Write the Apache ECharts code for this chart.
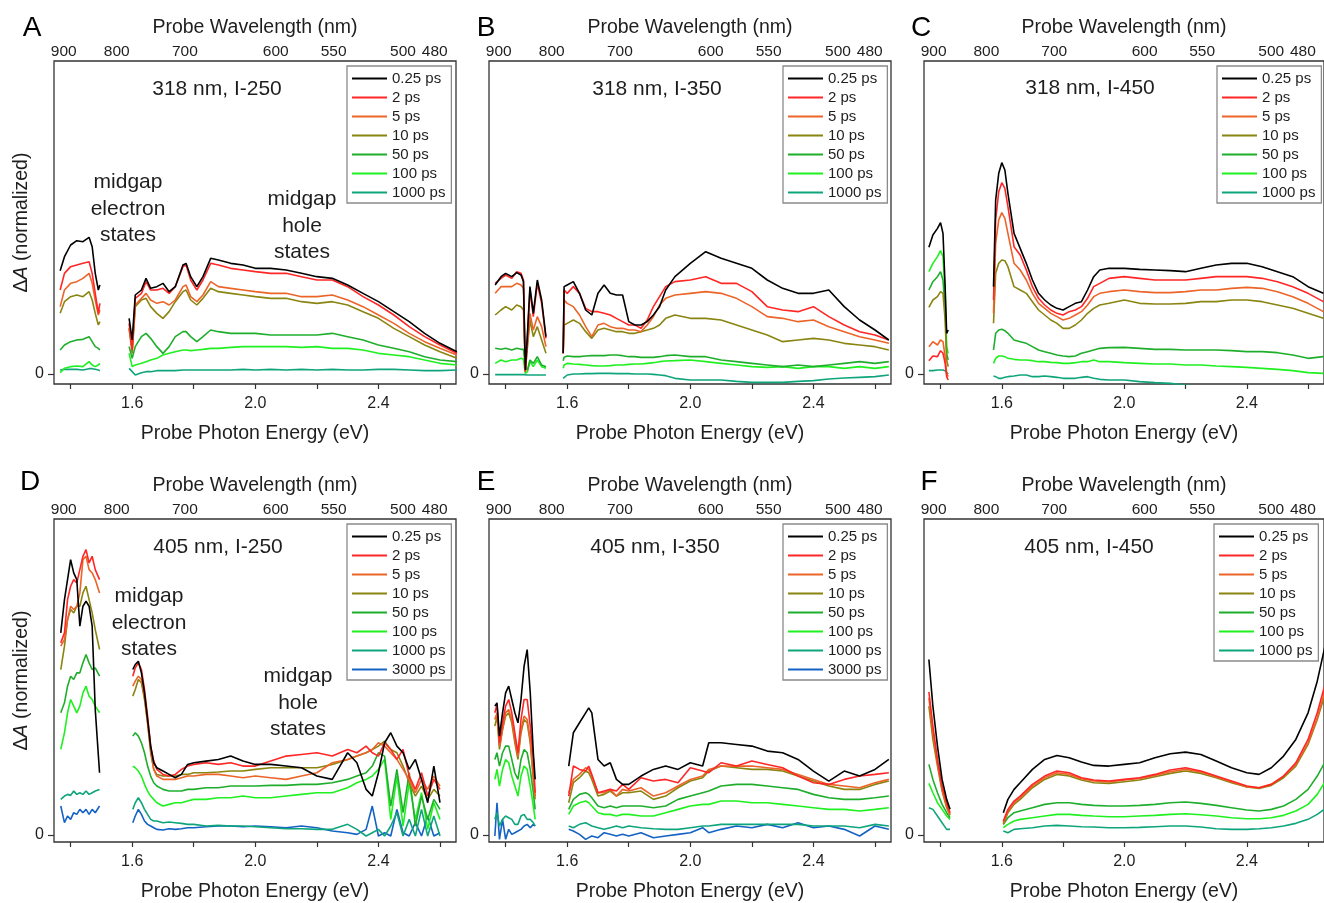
<!DOCTYPE html>
<html>
<head>
<meta charset="utf-8">
<title>TA spectra</title>
<script src="https://cdn.jsdelivr.net/npm/echarts/dist/echarts.min.js"></script>
<style>
html,body{margin:0;padding:0;background:#fff;}
#main{width:1324px;height:903px;}
</style>
</head>
<body>
<div id="main"></div>
<script>
// photon energy (eV) <-> wavelength (nm)
var HC = 1239.84;

var delays = ['0.25 ps','2 ps','5 ps','10 ps','50 ps','100 ps','1000 ps','3000 ps'];
var delayColors = ['#000000','#ff2626','#ec6428','#8a8410','#1fae2c','#1ff01f','#0fa57c','#1462c4'];
var wavelengthTicks = [900,800,700,600,550,500,480];
var energyTicks = [1.4,1.6,1.8,2.0,2.2,2.4,2.6];
var energyLabels = [1.6,2.0,2.4];
var panelLetters = ['A','B','C','D','E','F'];
var panelTitles = ['318 nm, I-250','318 nm, I-350','318 nm, I-450','405 nm, I-250','405 nm, I-350','405 nm, I-450'];

// ---- A : 318 nm, I-250 ----
var aNirE = [1.366,1.38,1.40,1.42,1.44,1.46,1.47,1.48,1.49,1.495];
var aNir = [
    [310,352,387,400,397,410,382,302,252,267],
    [252,302,322,327,332,337,302,242,182,212],
    [202,252,272,277,287,302,272,222,177,192],
    [182,217,232,237,232,247,222,182,147,157],
    [72,87,97,102,104,112,97,82,77,72],
    [4,17,22,24,22,37,27,22,27,32],
    [12,14,14,14,12,16,16,14,12,10]
];
var aVisE = [1.59,1.60,1.61,1.63,1.645,1.66,1.68,1.70,1.72,1.74,1.765,1.775,1.79,1.81,1.83,1.855,1.88,1.92,1.96,2.00,2.05,2.10,2.15,2.20,2.25,2.30,2.35,2.40,2.45,2.50,2.55,2.60,2.655];
var aVis = [
    [167,102,237,252,287,257,262,272,247,262,327,332,292,262,292,347,342,332,327,317,317,312,302,292,287,267,242,217,187,157,122,92,67],
    [152,72,227,242,277,252,252,257,242,262,322,327,282,252,282,332,327,317,312,307,302,302,292,282,282,262,232,207,177,142,112,87,62],
    [137,72,207,227,242,222,212,217,207,222,262,267,232,217,237,277,262,257,252,247,242,242,232,232,237,222,202,177,152,122,97,77,57],
    [137,62,202,222,227,202,182,167,187,217,247,252,222,207,227,257,247,242,237,232,227,227,217,212,217,207,187,167,137,112,87,67,47],
    [82,47,82,112,122,107,82,62,82,112,127,127,112,97,112,132,127,122,122,122,117,117,117,117,122,112,102,87,77,67,52,42,37],
    [62,22,27,32,37,42,47,57,62,67,72,72,70,72,74,77,77,80,82,82,82,82,80,82,77,77,72,62,57,52,42,32,27],
    [17,7,-3,4,7,7,10,10,10,10,12,12,12,12,12,12,12,12,14,12,14,12,14,12,14,12,12,14,14,12,10,10,12]
];

// ---- B : 318 nm, I-350 ----
var bNirE = [1.366,1.385,1.40,1.42,1.436,1.45,1.458,1.464,1.471,1.479,1.49,1.503,1.517,1.531];
var bNir = [
    [267,292,302,292,304,297,277,12,122,262,182,282,222,112],
    [272,287,297,287,307,302,282,7,112,252,172,272,212,107],
    [242,262,262,262,272,267,257,7,92,182,132,172,142,82],
    [177,192,202,192,207,202,192,12,82,162,112,142,102,62],
    [77,74,77,72,77,74,74,22,12,42,32,52,27,22],
    [32,42,37,42,42,47,44,2,7,37,22,42,22,17],
    [-2,-2,-2,-2,-2,-2,-2,-5,-3,-3,-3,-3,-3,-3]
];
var bVisE = [1.587,1.59,1.60,1.62,1.64,1.66,1.68,1.70,1.72,1.74,1.76,1.78,1.80,1.82,1.84,1.86,1.88,1.90,1.92,1.95,2.00,2.05,2.10,2.15,2.20,2.25,2.30,2.35,2.40,2.45,2.50,2.55,2.60,2.645];
var bVis = [
    [62,262,267,277,242,192,177,242,267,242,237,237,157,147,147,157,177,202,252,292,332,367,347,332,317,282,257,242,242,252,202,162,132,102],
    [62,252,242,262,242,197,187,187,182,177,167,157,147,147,137,162,202,232,262,277,282,292,272,272,247,202,192,187,202,172,147,127,117,102],
    [62,222,212,202,177,142,112,147,152,142,137,137,132,132,127,147,172,207,227,237,242,247,242,227,202,172,167,157,162,142,127,112,102,92],
    [62,147,152,162,152,127,107,132,137,132,127,127,122,122,127,132,137,147,167,177,167,167,162,147,132,117,97,102,107,102,92,87,82,72],
    [40,50,54,52,52,54,55,55,55,57,57,55,52,52,50,50,50,52,55,57,52,52,42,37,32,27,22,27,22,27,32,37,32,37],
    [17,27,32,30,29,27,25,24,24,25,27,27,29,30,30,32,34,37,39,40,42,37,32,27,22,20,22,17,22,22,17,22,17,22],
    [-13,-8,-3,0,0,1,1,2,2,2,1,1,1,0,0,0,-1,-3,-5,-13,-18,-18,-18,-22,-25,-25,-25,-22,-20,-15,-12,-10,-8,-3]
];

// ---- C : 318 nm, I-450 ----
var cNirE = [1.362,1.375,1.39,1.40,1.408,1.415,1.42,1.425];
var cNir = [
    [380,417,437,454,422,262,122,132],
    [40,54,52,70,62,32,-8,-18],
    [82,97,87,102,97,52,2,-8],
    [200,222,232,247,242,162,42,22],
    [252,277,292,307,282,192,62,42],
    [307,332,352,370,352,242,82,62],
    [10,10,12,12,12,10,5,0]
];
var cVisE = [1.573,1.58,1.59,1.60,1.61,1.62,1.64,1.66,1.68,1.70,1.72,1.74,1.76,1.78,1.80,1.82,1.84,1.86,1.88,1.90,1.92,1.95,2.00,2.05,2.10,2.15,2.20,2.25,2.30,2.35,2.40,2.45,2.50,2.55,2.60,2.65];
var cVis = [
    [262,522,602,634,612,542,422,377,332,282,242,222,207,197,192,202,212,217,252,292,312,317,317,314,312,310,307,317,327,332,332,322,307,292,262,242],
    [222,462,547,574,557,502,382,357,312,262,227,207,192,182,177,187,192,202,227,262,272,287,292,287,282,282,282,287,292,292,292,287,277,262,242,217],
    [182,392,462,484,467,422,332,312,282,242,212,197,182,172,162,167,177,187,207,232,242,247,252,247,244,244,247,252,252,257,260,257,247,232,212,187],
    [152,302,332,342,340,322,262,252,242,217,192,177,162,152,137,137,147,162,182,197,207,212,222,212,210,210,212,217,217,222,222,217,207,197,182,167],
    [72,122,132,134,130,122,102,97,92,82,72,67,62,57,54,52,54,62,67,72,77,79,80,77,74,74,72,72,72,70,67,67,64,57,47,52],
    [32,47,54,54,52,47,44,42,42,40,37,37,35,34,32,32,34,37,37,42,37,37,34,32,30,30,27,27,24,22,20,17,14,10,4,2],
    [-6,-8,-13,-13,-10,-8,-6,-3,-3,-8,-8,-6,-8,-10,-13,-13,-13,-10,-8,-13,-16,-18,-18,-23,-26,-28,-33,-38,-38,-38,-38,-38,-38,-38,-38,-38]
];

// ---- D : 405 nm, I-250 ----
var dNirE = [1.368,1.38,1.39,1.40,1.41,1.42,1.43,1.44,1.45,1.46,1.47,1.48,1.494];
var dNir = [
    [607,707,767,827,787,767,627,687,702,687,627,377,187],
    [577,607,707,747,767,757,797,837,857,817,837,797,767],
    [567,587,647,687,677,687,727,827,837,797,787,767,727],
    [497,567,647,677,667,687,687,727,747,707,667,617,557],
    [367,397,447,477,467,487,487,517,542,517,497,502,477],
    [257,307,367,407,387,367,387,427,447,417,407,387,367],
    [107,117,122,119,132,122,127,122,132,122,127,132,137],
    [87,37,57,47,67,62,77,67,77,62,77,67,87]
];
var dVisE = [1.602,1.61,1.62,1.63,1.64,1.65,1.66,1.67,1.68,1.70,1.72,1.74,1.76,1.78,1.80,1.84,1.88,1.92,1.96,2.00,2.05,2.10,2.15,2.20,2.25,2.30,2.33,2.36,2.38,2.40,2.42,2.44,2.46,2.48,2.50,2.52,2.54,2.56,2.58,2.60];
var dVis = [
    [497,512,522,487,427,347,267,217,202,192,182,172,182,212,217,222,227,237,222,212,212,207,202,177,167,247,217,137,117,187,277,307,267,247,197,227,167,97,207,97],
    [477,502,517,497,437,357,267,222,197,182,177,182,197,207,212,217,212,217,207,207,222,237,242,247,237,257,247,267,247,237,277,257,227,257,177,137,187,117,167,137],
    [447,462,477,467,417,337,257,197,177,167,167,167,172,177,177,182,182,177,172,177,172,167,177,187,217,227,237,247,257,277,267,247,227,197,167,127,167,137,177,147],
    [417,437,467,457,407,337,247,197,182,177,177,177,182,182,187,187,189,192,192,197,202,202,202,202,212,227,237,247,257,267,282,257,247,207,157,117,147,107,137,117],
    [297,307,297,277,247,207,177,157,147,137,132,132,132,137,137,142,142,147,147,147,149,149,152,152,157,167,177,187,207,247,237,87,197,67,187,27,117,47,107,77],
    [207,202,192,177,152,132,117,107,97,87,92,97,97,102,107,107,112,112,117,112,112,117,122,127,127,142,157,167,177,197,227,47,177,27,157,47,127,17,97,47],
    [77,97,112,97,77,62,47,42,42,37,39,37,35,32,32,27,29,27,27,25,22,19,19,17,17,32,17,-3,7,17,-3,27,67,-3,47,-3,77,-3,57,-3],
    [37,57,77,62,42,32,27,22,17,15,19,17,19,22,22,25,27,27,25,27,25,22,27,22,12,7,2,17,87,-3,7,-3,77,7,-3,37,-3,57,-3,7]
];

// ---- E : 405 nm, I-350 ----
var eNirE = [1.365,1.372,1.38,1.39,1.40,1.41,1.42,1.43,1.44,1.45,1.46,1.47,1.48,1.49,1.496];
var eNir = [
    [387,397,297,367,427,447,407,367,337,407,507,557,427,247,167],
    [367,392,277,337,387,407,367,307,247,347,407,407,327,227,127],
    [347,367,267,317,367,377,347,287,237,317,357,347,287,177,117],
    [327,357,257,317,357,367,337,277,227,307,347,337,277,167,107],
    [227,247,207,247,267,267,227,187,167,227,257,247,197,127,77],
    [167,197,147,197,227,217,177,147,117,177,207,197,147,87,47],
    [47,67,27,47,57,52,47,32,32,57,62,47,47,37,27],
    [-3,97,-13,47,-13,17,2,7,12,17,27,32,22,32,27]
];
var eVisE = [1.605,1.62,1.64,1.66,1.67,1.68,1.70,1.72,1.74,1.76,1.78,1.80,1.84,1.88,1.92,1.96,2.00,2.04,2.06,2.10,2.15,2.20,2.25,2.30,2.35,2.40,2.45,2.50,2.55,2.60,2.645];
var eVis = [
    [207,307,337,367,382,367,227,207,217,167,152,152,177,197,207,197,217,207,277,277,272,267,252,247,227,192,162,192,177,197,227],
    [117,207,197,192,207,182,127,132,137,132,152,137,172,162,167,157,202,192,187,217,207,222,212,202,177,157,152,167,177,182,187],
    [127,167,182,202,197,177,127,127,137,117,137,132,142,117,127,147,167,177,197,207,207,207,202,197,182,167,152,147,142,157,167],
    [97,157,172,192,187,167,117,122,132,117,127,127,132,107,117,142,162,172,192,207,202,197,197,192,177,162,147,137,137,152,162],
    [77,107,122,127,122,112,87,82,87,82,87,87,87,82,87,107,117,127,132,147,152,152,147,142,137,122,112,107,107,112,117],
    [62,87,97,102,97,87,67,62,62,57,62,62,57,57,67,77,87,92,92,102,102,97,97,92,87,82,77,77,72,77,82],
    [27,22,32,37,32,27,22,17,22,27,22,27,22,19,17,17,22,27,27,32,32,32,32,32,32,27,27,27,22,32,27],
    [17,12,2,-13,-8,-3,-8,7,2,-3,2,-3,7,-8,-3,2,7,22,7,17,27,22,32,22,37,22,27,17,-3,27,17]
];

// ---- F : 405 nm, I-450 ----
var fNirE = [1.362,1.375,1.39,1.405,1.42,1.431];
var fNir = [
    [527,387,267,167,107,77],
    [430,327,227,147,97,67],
    [412,307,217,137,87,62],
    [387,287,207,132,82,59],
    [212,167,127,92,67,52],
    [155,127,97,77,57,47],
    [82,77,57,37,17,17]
];
var fVisE = [1.605,1.62,1.64,1.66,1.70,1.74,1.78,1.82,1.86,1.90,1.95,2.00,2.05,2.10,2.15,2.20,2.25,2.30,2.35,2.40,2.44,2.48,2.52,2.56,2.60,2.63,2.66];
var fVis = [
    [67,107,137,157,197,227,239,232,219,209,207,212,217,232,244,249,242,222,202,187,182,202,237,287,367,462,587],
    [42,77,102,117,152,177,192,187,172,165,162,167,172,182,195,202,192,177,162,147,142,152,177,217,287,367,467],
    [37,72,97,112,147,172,187,182,169,162,159,165,170,179,190,197,189,175,160,145,142,152,177,212,277,352,447],
    [32,67,92,107,142,167,182,177,165,157,155,160,165,175,185,192,185,172,157,144,140,149,172,207,272,347,437],
    [32,52,67,72,82,92,97,97,92,89,87,87,89,92,97,99,95,89,82,75,72,77,87,107,137,177,227],
    [22,32,42,47,52,57,62,62,59,57,55,55,57,59,62,64,61,57,52,49,49,52,59,72,92,122,167],
    [12,7,17,19,22,27,29,27,25,24,22,22,23,25,27,27,24,19,17,17,19,22,27,35,47,62,82]
];

var panels = [
    {nirE:aNirE, nir:aNir, visE:aVisE, vis:aVis},
    {nirE:bNirE, nir:bNir, visE:bVisE, vis:bVis},
    {nirE:cNirE, nir:cNir, visE:cVisE, vis:cVis},
    {nirE:dNirE, nir:dNir, visE:dVisE, vis:dVis},
    {nirE:eNirE, nir:eNir, visE:eVisE, vis:eVis},
    {nirE:fNirE, nir:fNir, visE:fVisE, vis:fVis}
];

// layout (pixels)
var FONT = 'Liberation Sans, Arial, Helvetica, sans-serif';
var TXT = '#1e1e1e';
var EMIN = 1.346, EMAX = 2.652;
var gridPos = [
    {left:54, top:61, width:402, height:323},
    {left:489, top:61, width:402, height:323},
    {left:924, top:61, width:402, height:323},
    {left:54, top:519, width:402, height:324},
    {left:489, top:519, width:402, height:324},
    {left:924, top:519, width:402, height:324}
];
var yRange = [[-30,939],[-30,939],[-30,939],[-21,949],[-21,949],[-21,949]];
var legendPos = [[347,66],[783,66],[1217,66],[347,524],[783,524],[1214,524]];
var titlePos = [[217,89],[657,89],[1090,88],[218,547],[655,547],[1089,547]];
var letterPos = [[32,28],[486,28],[921,28],[30,482],[486,482],[929,482]];

var myChart = echarts.init(document.getElementById('main'), null, {renderer:'canvas'});

var grids = [], xAxes = [], yAxes = [], series = [], legends = [], graphics = [];

for (var p = 0; p < panels.length; p++) {
    var pn = panels[p];
    grids.push({
        left: gridPos[p].left, top: gridPos[p].top,
        width: gridPos[p].width, height: gridPos[p].height,
        show: true, borderColor: '#333', borderWidth: 1.3
    });
    // bottom energy axis
    xAxes.push({
        type:'value', gridIndex:p, position:'bottom', min:EMIN, max:EMAX,
        axisLine:{show:false, onZero:false},
        axisTick:{show:true, inside:false, length:5, customValues:energyTicks, lineStyle:{color:'#333', width:1.2}},
        axisLabel:{customValues:energyLabels, margin:12, fontSize:16, color:TXT, fontFamily:FONT,
            formatter:function(v){ return v.toFixed(1); }},
        splitLine:{show:false},
        name:'Probe Photon Energy (eV)', nameLocation:'middle', nameGap:40,
        nameTextStyle:{fontSize:19.5, color:TXT, fontFamily:FONT}
    });
    // top wavelength axis
    xAxes.push({
        type:'value', gridIndex:p, position:'top', min:EMIN, max:EMAX,
        axisLine:{show:false, onZero:false}, axisTick:{show:false},
        axisLabel:{customValues:wavelengthTicks.map(function(w){ return HC / w; }),
            margin:1, fontSize:15.5, color:TXT, fontFamily:FONT,
            formatter:function(v){ return String(Math.round(HC / v)); }},
        splitLine:{show:false},
        name:'Probe Wavelength (nm)', nameLocation:'middle', nameGap:23,
        nameTextStyle:{fontSize:19.5, color:TXT, fontFamily:FONT}
    });
    var ya = {
        type:'value', gridIndex:p, min:yRange[p][0], max:yRange[p][1],
        axisLine:{show:false, onZero:false},
        axisTick:{show:true, length:6, customValues:[0], lineStyle:{color:'#333', width:1.2}},
        axisLabel:{customValues:[0], margin:10, fontSize:16, color:TXT, fontFamily:FONT},
        splitLine:{show:false}
    };
    if (p % 3 == 0) {
        ya.name = '\u0394{i|A} (normalized)';
        ya.nameLocation = 'middle';
        ya.nameGap = 17;
        ya.nameTextStyle = {fontSize:19.5, color:TXT, fontFamily:FONT,
            rich:{i:{fontStyle:'italic', fontSize:19.5, color:TXT, fontFamily:FONT}}};
    }
    yAxes.push(ya);

    var names = [];
    for (var k = 0; k < pn.nir.length; k++) {
        var pts = [];
        for (var j = 0; j < pn.nirE.length; j++) pts.push([pn.nirE[j], pn.nir[k][j]]);
        // gap between the two detector ranges
        pts.push([(pn.nirE[pn.nirE.length-1] + pn.visE[0]) / 2, null]);
        for (var j = 0; j < pn.visE.length; j++) pts.push([pn.visE[j], pn.vis[k][j]]);
        series.push({
            type:'line', name:delays[k], xAxisIndex:2*p, yAxisIndex:p,
            data:pts, symbol:'none', connectNulls:false,
            lineStyle:{width:1.6, color:delayColors[k]}, itemStyle:{color:delayColors[k]},
            z: 10 - k
        });
        names.push(delays[k]);
    }
    legends.push({
        data:names, orient:'vertical', left:legendPos[p][0], top:legendPos[p][1],
        icon:'rect', itemWidth:35, itemHeight:2, itemGap:4, selectedMode:false,
        borderColor:'#8a8a8a', borderWidth:1.3, padding:[5,6,3,5],
        textStyle:{fontSize:15, lineHeight:15, color:TXT, fontFamily:FONT}
    });
    graphics.push({type:'text', x:titlePos[p][0], y:titlePos[p][1],
        style:{text:panelTitles[p], fill:TXT, font:'21px ' + FONT, align:'center', verticalAlign:'middle'}});
    graphics.push({type:'text', x:letterPos[p][0], y:letterPos[p][1],
        style:{text:panelLetters[p], fill:'#000', font:'28px ' + FONT, align:'center', verticalAlign:'middle'}});
}

// annotations in A and D
var notes = [
    ['midgap\nelectron\nstates', 128, 209],
    ['midgap\nhole\nstates', 302, 226],
    ['midgap\nelectron\nstates', 149, 623],
    ['midgap\nhole\nstates', 298, 703]
];
for (var n = 0; n < notes.length; n++) {
    graphics.push({type:'text', x:notes[n][1], y:notes[n][2],
        style:{text:notes[n][0], fill:TXT, font:'21px ' + FONT, lineHeight:26.5, align:'center', verticalAlign:'middle'}});
}

myChart.setOption({
    animation:false,
    backgroundColor:'#fff',
    grid:grids, xAxis:xAxes, yAxis:yAxes,
    legend:legends, series:series, graphic:graphics
});
</script>
</body>
</html>
